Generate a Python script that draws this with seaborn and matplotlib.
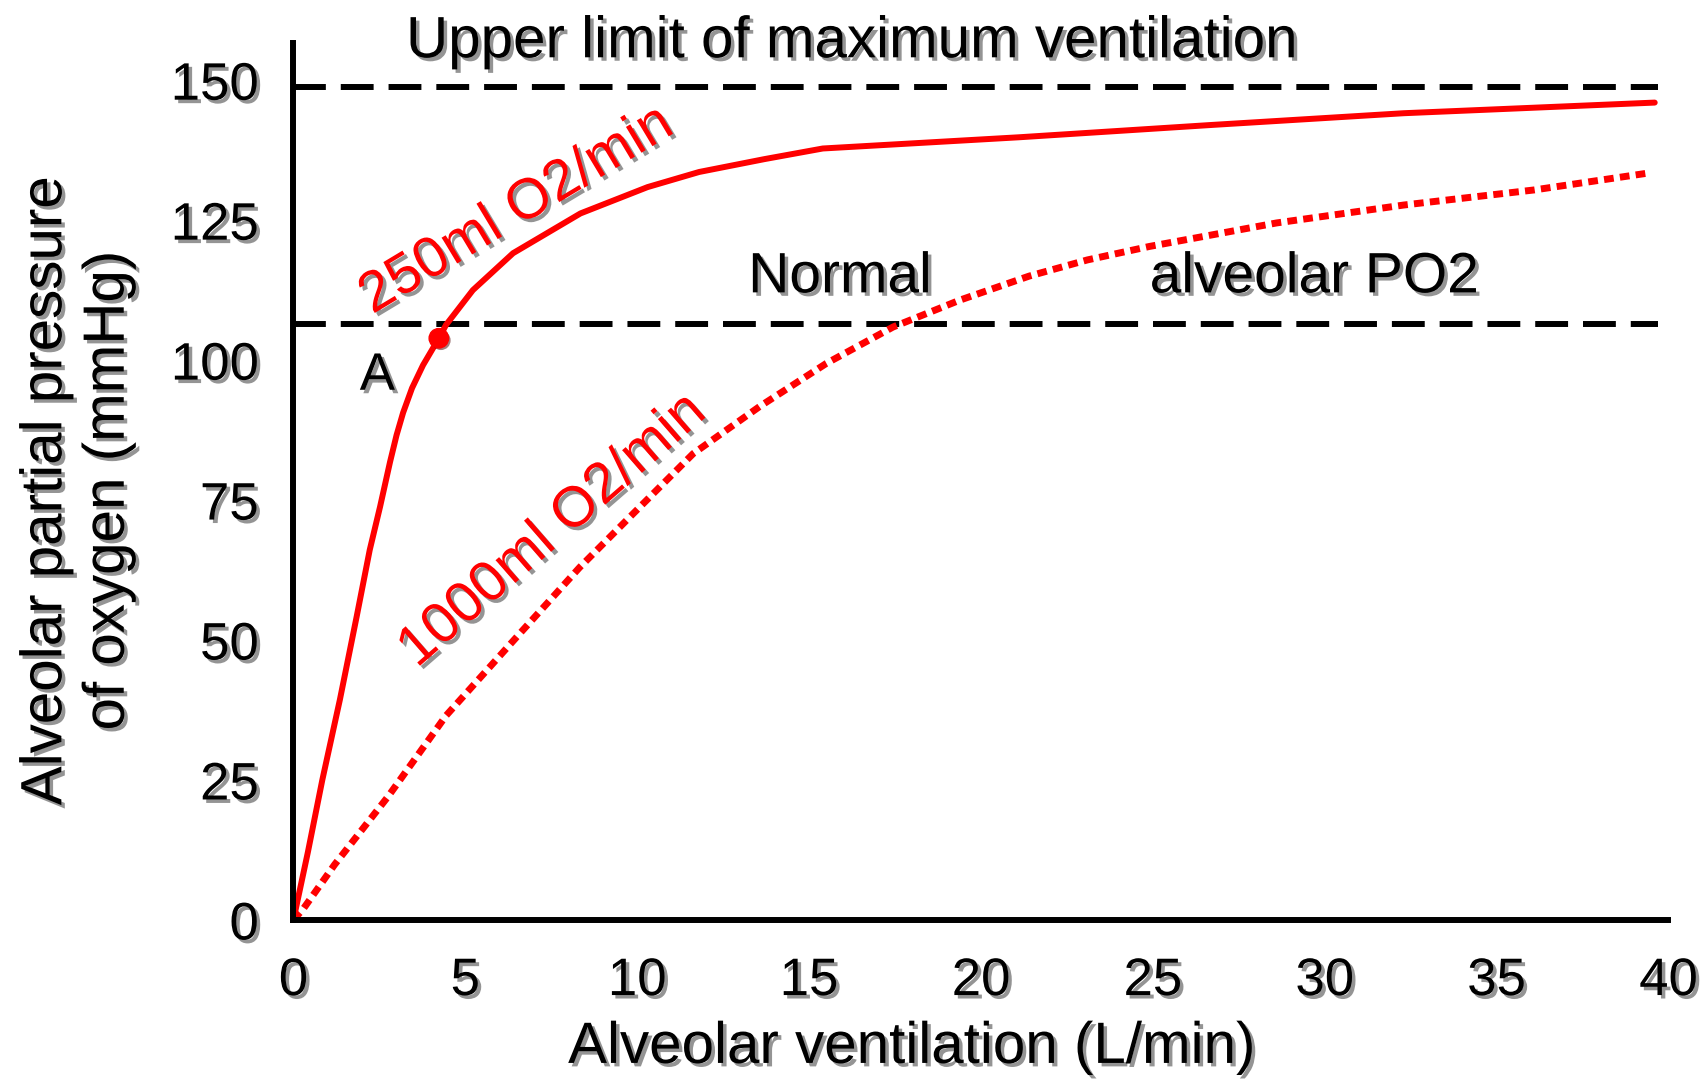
import numpy as np
import pandas as pd
import matplotlib
matplotlib.use("Agg")
import matplotlib.pyplot as plt
import matplotlib.patheffects as pe
import seaborn as sns

# Curve values
vent_250 = [0, 0.42, 0.84, 1.35, 1.84, 2.22, 2.52, 2.81, 3.0, 3.19, 3.45, 3.77, 4.23,
            4.44, 5.22, 6.39, 8.35, 10.3, 11.8, 13.7, 15.4, 21.1, 26.7, 32.3, 39.6]
po2_250 = [0, 12.1, 25.0, 39.3, 54.2, 66.1, 73.8, 81.8, 86.6, 90.6, 95.0, 99.1, 103.9,
           106.3, 112.5, 119.1, 126.2, 130.9, 133.6, 135.9, 137.8, 139.8, 142.0, 144.1, 146.0]

vent_1000 = [0, 0.29, 1.2, 2.76, 4.44, 6.65, 8.33, 9.79, 11.63, 13.56, 15.5, 17.44,
             19.38, 21.4, 23.1, 24.9, 28.6, 32.3, 36.1, 39.4]
po2_1000 = [0, 2.0, 9.9, 22.1, 36.5, 51.6, 63.0, 72.0, 83.3, 91.7, 99.4, 105.9,
            110.7, 115.0, 117.9, 120.3, 124.5, 127.7, 130.4, 133.4]

upper_limit = 148.75
normal_po2 = 106.4
point_a = (4.23, 103.9)

x_ticks = [0, 5, 10, 15, 20, 25, 30, 35, 40]
y_ticks = [0, 25, 50, 75, 100, 125, 150]

df250 = pd.DataFrame({"vent": vent_250, "po2": po2_250})
df1000 = pd.DataFrame({"vent": vent_1000, "po2": po2_1000})

sns.set_theme(style="white")
plt.rcParams["font.family"] = ["Liberation Sans", "DejaVu Sans"]
for key in ["text.color", "axes.labelcolor", "xtick.color", "ytick.color"]:
    plt.rcParams[key] = "black"

shadow = [pe.withSimplePatchShadow(offset=(2.5, -2.5), shadow_rgbFace="0.3", alpha=0.6)]

fig = plt.figure(figsize=(17.06, 10.81), dpi=100)
ax = fig.add_axes([0.172, 0.149, 0.806, 0.811])

# reference lines
ax.hlines([upper_limit, normal_po2], 0, 39.7, colors="black", lw=4.3,
          linestyles=[(0, (5.5, 2.5))])

# curves
sns.lineplot(data=df250, x="vent", y="po2", ax=ax, color="red", lw=4.3,
             sort=False, clip_on=False)
sns.lineplot(data=df1000, x="vent", y="po2", ax=ax, color="red", lw=5.0,
             sort=False, clip_on=False, linestyle=(0, (1.4, 0.9)))
ax.plot(*point_a, "o", color="red", ms=14, zorder=5,
        path_effects=[pe.withSimplePatchShadow(offset=(1.5, -1.5), alpha=0.5)])

ax.set_xlim(0, 40)
ax.set_ylim(0, 156.6)
ax.set_xticks(x_ticks)
ax.set_yticks(y_ticks)
ax.tick_params(axis="both", direction="out", length=14, width=4.3,
               color="black", labelsize=38)
ax.tick_params(axis="x", pad=12)
ax.tick_params(axis="y", pad=11)
for lab in ax.get_xticklabels() + ax.get_yticklabels():
    lab.set_path_effects(shadow)

sns.despine(ax=ax)
for s in ["left", "bottom"]:
    ax.spines[s].set_linewidth(4.3)
    ax.spines[s].set_color("black")

ax.set_xlabel("Alveolar ventilation (L/min)", fontsize=42, path_effects=shadow)
ax.xaxis.set_label_coords(0.4497, -0.146)
ax.xaxis.label.set_va("center")
ax.set_ylabel("Alveolar partial pressure\nof oxygen (mmHg)", fontsize=42,
              path_effects=shadow)
ax.yaxis.set_label_coords(-0.157, 0.49)
ax.yaxis.label.set_va("center")

# annotations
fig.text(0.4994, 0.947, "Upper limit of maximum ventilation", fontsize=42,
         ha="center", va="baseline", path_effects=shadow)
ax.text(15.9, 112.1, "Normal", fontsize=41, ha="center", va="baseline",
        path_effects=shadow)
ax.text(29.7, 112.1, "alveolar PO2", fontsize=41, ha="center", va="baseline",
        path_effects=shadow)
ax.text(2.44, 94.7, "A", fontsize=38, ha="center", va="baseline",
        path_effects=shadow)
ax.text(6.5, 126.8, "250ml O2/min", fontsize=41, color="red", rotation=31,
        ha="center", va="center", rotation_mode="anchor", path_effects=shadow)
ax.text(7.55, 69.6, "1000ml O2/min", fontsize=41, color="red", rotation=41,
        ha="center", va="center", rotation_mode="anchor", path_effects=shadow)

fig.savefig("out.png", dpi=100)
